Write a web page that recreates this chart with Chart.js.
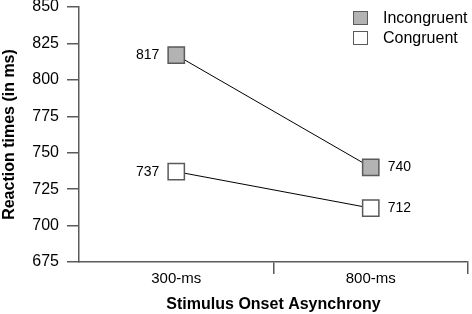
<!DOCTYPE html>
<html>
<head>
<meta charset="utf-8">
<script src="https://cdn.jsdelivr.net/npm/chart.js@4"></script>
<style>
  html, body { margin: 0; padding: 0; background: #fff; }
  #wrap { width: 472px; height: 314px; }
</style>
</head>
<body>
<div id="wrap"><canvas id="chart"></canvas></div>
<script>
const FONT = "'Liberation Sans', Arial, Helvetica, sans-serif";

// data
const soaLabels = ["300-ms", "800-ms"];
const incongruent = [817, 740];
const congruent = [737, 712];
const yTicks = [675, 700, 725, 750, 775, 800, 825, 850];

const seriesNames = ["Incongruent", "Congruent"];
const seriesFill = ["#b3b3b3", "#ffffff"];
const AXIS = "#5a5a5a";

/* value labels next to each marker */
const valueLabels = {
    id: "valueLabels",
    afterDatasetsDraw(chart) {
        const ctx = chart.ctx;
        ctx.save();
        ctx.font = "14px " + FONT;
        ctx.fillStyle = "#000";
        ctx.textBaseline = "middle";
        chart.data.datasets.forEach((ds, i) => {
            chart.getDatasetMeta(i).data.forEach((pt, j) => {
                if (j === 0) {
                    ctx.textAlign = "right";
                    ctx.fillText(String(ds.data[j]), pt.x - 17, pt.y);
                } else {
                    ctx.textAlign = "left";
                    ctx.fillText(String(ds.data[j]), pt.x + 17, pt.y);
                }
            });
        });
        ctx.restore();
    }
};

/* legend box in the top right corner */
const cornerLegend = {
    id: "cornerLegend",
    afterDraw(chart) {
        const ctx = chart.ctx;
        ctx.save();
        ctx.font = "16px " + FONT;
        ctx.textBaseline = "middle";
        ctx.textAlign = "left";
        seriesNames.forEach((name, i) => {
            const y = 11 + i * 20;
            ctx.fillStyle = seriesFill[i];
            ctx.strokeStyle = AXIS;
            ctx.lineWidth = 1;
            ctx.fillRect(353.5, y + 0.5, 14, 13);
            ctx.strokeRect(353.5, y + 0.5, 14, 13);
            ctx.fillStyle = "#000";
            ctx.fillText(name, 383, y + 8);
        });
        ctx.restore();
    }
};

function pointSet(fill) {
    return {
        borderColor: "#000",
        borderWidth: 1,
        pointStyle: "rect",
        pointRadius: 11.5,
        pointHoverRadius: 11.5,
        pointBackgroundColor: fill,
        pointBorderColor: AXIS,
        pointBorderWidth: 1.5
    };
}

createChart("chart", {
    type: "line",
    data: {
        labels: soaLabels,
        datasets: [
            { label: seriesNames[0], data: incongruent, ...pointSet(seriesFill[0]) },
            { label: seriesNames[1], data: congruent, ...pointSet(seriesFill[1]) }
        ]
    },
    options: {
        responsive: true,
        maintainAspectRatio: false,
        animation: false,
        layout: { autoPadding: false, padding: { left: 0, right: 4, top: 7, bottom: 0 } },
        plugins: {
            legend: { display: false },
            tooltip: { enabled: false }
        },
        scales: {
            x: {
                offset: true,
                afterFit: s => { s.height = 52; },
                grid: {
                    offset: true,
                    drawOnChartArea: false,
                    tickLength: 12,
                    lineWidth: 1.5,
                    color: c => c.index === 0 ? "rgba(0,0,0,0)" : AXIS
                },
                border: { color: AXIS, width: 1.5 },
                ticks: { color: "#000", font: { family: FONT, size: 15 }, padding: -4 },
                title: {
                    display: true,
                    text: "Stimulus Onset Asynchrony",
                    color: "#000",
                    font: { family: FONT, size: 16, weight: "bold" },
                    padding: { top: 4, bottom: 0 }
                }
            },
            y: {
                min: 675,
                max: 850,
                // fixed width, and no extra room above the top tick label
                afterFit: s => {
                    s.width = 79;
                    s.paddingTop = 0;
                    s.paddingBottom = 0;
                },
                afterBuildTicks: axis => {
                    axis.ticks = yTicks.map(v => ({ value: v }));
                },
                grid: {
                    drawOnChartArea: false,
                    tickLength: 12,
                    lineWidth: 1.5,
                    color: AXIS
                },
                border: { color: AXIS, width: 1.5 },
                ticks: { color: "#000", font: { family: FONT, size: 16 }, padding: 8 },
                title: {
                    display: true,
                    text: "Reaction times (in ms)",
                    color: "#000",
                    font: { family: FONT, size: 16, weight: "bold" },
                    padding: { top: 0, bottom: 6 }
                }
            }
        }
    },
    plugins: [valueLabels, cornerLegend]
});

function createChart(id, config) {
    const el = document.getElementById(id);
    if (!el) return;
    new Chart(el, config);
}
</script>
</body>
</html>
